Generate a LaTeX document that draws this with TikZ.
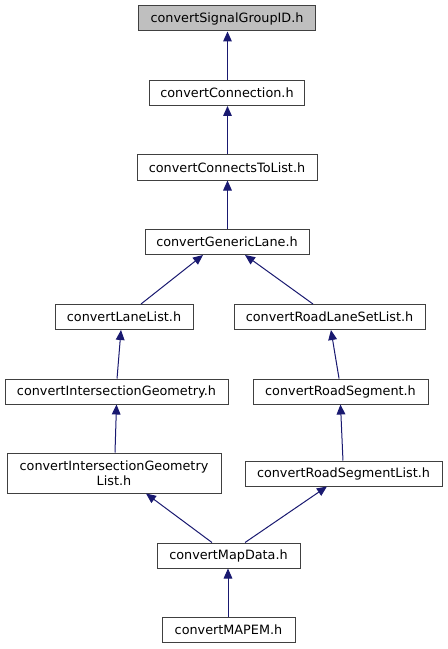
\documentclass[tikz,border=0pt]{standalone}
\usepackage{fontspec}
\setmainfont{DejaVu Sans}
\usetikzlibrary{arrows.meta}
\definecolor{edgecol}{HTML}{191970}
\definecolor{rootfill}{HTML}{BFBFBF}
\definecolor{boxline}{HTML}{404040}
\tikzset{
  box/.style={draw=boxline, line width=0.75pt, rectangle, inner sep=0pt,
    minimum height=18.75pt, align=center, font=\fontsize{9.6}{11.2}\selectfont, fill=white},
  edge/.style={draw=edgecol, line width=0.75pt, {Triangle[length=7.5pt,width=6.5pt]}-}
}
\begin{document}
\begin{tikzpicture}[x=0.75pt,y=-0.75pt]
\useasboundingbox (0,0) rectangle (447,649);
\node[box, fill=rootfill, minimum width=132.75pt] (sig) at (227,18.5) {convertSignalGroupID.h};
\node[box, minimum width=116.25pt] (conn) at (227,93) {convertConnection.h};
\node[box, minimum width=135pt] (ctl) at (227,167.5) {convertConnectsToList.h};
\node[box, minimum width=123pt] (gl) at (227,242) {convertGenericLane.h};
\node[box, minimum width=103.5pt] (ll) at (124,317) {convertLaneList.h};
\node[box, minimum width=143.25pt] (rlsl) at (329.5,317) {convertRoadLaneSetList.h};
\node[box, minimum width=167.25pt] (ig) at (116.5,391.5) {convertIntersectionGeometry.h};
\node[box, minimum width=131.25pt] (rs) at (340.5,391.5) {convertRoadSegment.h};
\node[box, minimum width=160.5pt, minimum height=30pt] (igl) at (114,473) {convertIntersectionGeometry\\List.h};
\node[box, minimum width=147.75pt] (rsl) at (343.5,473.5) {convertRoadSegmentList.h};
\node[box, minimum width=107.25pt] (md) at (228.5,555.5) {convertMapData.h};
\node[box, minimum width=99.75pt] (mapem) at (228.5,630) {convertMAPEM.h};

\draw[edge] ([xshift=0.375pt]sig.south) -- ([xshift=0.375pt]conn.north);
\draw[edge] ([xshift=0.375pt]conn.south) -- ([xshift=0.375pt]ctl.north);
\draw[edge] ([xshift=0.375pt]ctl.south) -- ([xshift=0.375pt]gl.north);
\draw[edge] ([xshift=-18pt]gl.south) -- ([xshift=12.75pt]ll.north);
\draw[edge] ([xshift=13.5pt]gl.south) -- ([xshift=-12.4pt]rlsl.north);
\draw[edge] ([xshift=-2.25pt]ll.south) -- ([xshift=0.4pt]ig.north);
\draw[edge] ([xshift=1.1pt]rlsl.south) -- ([xshift=-1.1pt]rs.north);
\draw[edge] (ig.south) -- ([xshift=0.75pt]igl.north);
\draw[edge] (rs.south) -- ([xshift=-0.4pt]rsl.north);
\draw[edge] ([xshift=24pt]igl.south) -- ([xshift=-12.4pt]md.north);
\draw[edge] ([xshift=-12.4pt]rsl.south) -- ([xshift=12.4pt]md.north);
\draw[edge] ([xshift=-0.375pt]md.south) -- ([xshift=-0.375pt]mapem.north);
\end{tikzpicture}
\end{document}
